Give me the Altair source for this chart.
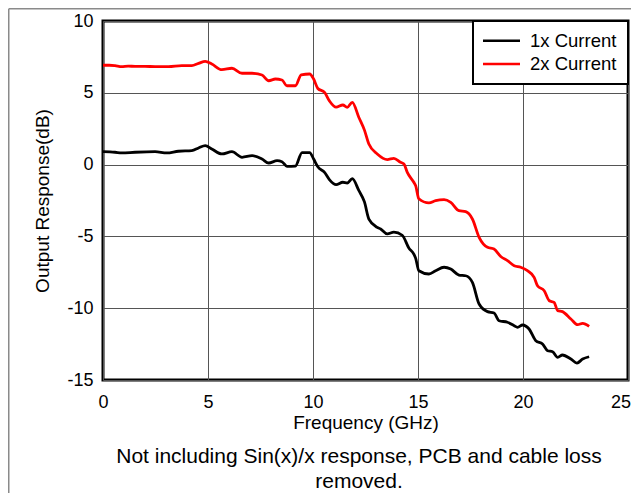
import altair as alt
import pandas as pd

series = ["1x Current", "2x Current"]
series_colors = ["#000000", "#ff0000"]

freq_1x = [0.0, 0.57, 0.89, 1.53, 2.48, 3.04, 3.59, 4.23, 4.55, 4.87, 5.18, 5.66, 6.14, 6.62,
           7.10, 7.57, 7.89, 8.29, 8.52, 8.76, 9.16, 9.48, 9.84, 10.03, 10.23, 10.55, 10.79,
           11.10, 11.42, 11.63, 11.87, 12.18, 12.45, 12.66, 13.06, 13.22, 13.54, 13.85, 14.25,
           14.57, 14.80, 14.89, 15.04, 15.52, 15.84, 16.24, 16.56, 16.95, 17.27, 17.59, 17.91,
           18.31, 18.62, 18.86, 19.26, 19.58, 19.74, 19.98, 20.29, 20.61, 20.93, 21.17, 21.41,
           21.65, 21.88, 22.28, 22.57, 22.84, 23.15]
resp_1x = [0.90, 0.86, 0.81, 0.86, 0.90, 0.81, 0.93, 0.97, 1.16, 1.32, 1.09, 0.74, 0.90, 0.51,
           0.62, 0.39, 0.11, 0.27, 0.20, -0.12, -0.10, 0.84, 0.84, 0.39, -0.15, -0.54, -1.06,
           -1.40, -1.23, -1.28, -0.98, -1.80, -2.60, -3.79, -4.37, -4.48, -4.83, -4.70, -4.92,
           -5.82, -6.23, -6.53, -7.39, -7.62, -7.39, -7.15, -7.27, -7.69, -7.74, -8.20, -9.71,
           -10.24, -10.33, -10.87, -10.98, -11.22, -11.33, -11.17, -11.45, -12.26, -12.49, -12.96, -13.03,
           -13.42, -13.26, -13.54, -13.82, -13.54, -13.38]

freq_2x = [0.0, 0.3, 0.57, 0.89, 1.2, 1.53, 2.0, 2.48, 3.12, 3.75, 4.23, 4.55, 4.87, 5.18, 5.66,
           6.14, 6.62, 7.10, 7.57, 7.89, 8.21, 8.52, 8.76, 9.16, 9.44, 9.84, 10.03, 10.23, 10.55,
           10.79, 11.10, 11.42, 11.63, 11.87, 12.18, 12.45, 12.66, 13.06, 13.54, 13.85, 14.17,
           14.33, 14.49, 14.80, 14.89, 15.04, 15.52, 15.84, 16.24, 16.56, 16.95, 17.27, 17.59,
           17.91, 18.31, 18.62, 18.94, 19.26, 19.58, 19.89, 20.21, 20.53, 20.69, 21.01, 21.25,
           21.48, 21.65, 21.88, 22.28, 22.60, 22.84, 23.15]
resp_2x = [6.92, 6.92, 6.89, 6.82, 6.86, 6.84, 6.84, 6.82, 6.82, 6.89, 6.89, 7.05, 7.19, 7.00, 6.61,
           6.71, 6.36, 6.36, 6.24, 5.84, 5.96, 5.89, 5.49, 5.49, 6.25, 6.31, 5.96, 5.30, 5.03,
           4.42, 4.00, 4.15, 3.99, 4.34, 3.30, 2.40, 1.43, 0.74, 0.35, 0.44, 0.16,
           0.04, -0.54, -1.23, -1.47, -2.38, -2.67, -2.51, -2.44, -2.63, -3.21, -3.28, -3.79,
           -5.06, -5.76, -5.88, -6.40, -6.69, -7.04, -7.15, -7.39, -7.85, -8.43, -8.78, -9.48,
           -9.59, -10.17, -10.24, -10.75, -11.15, -11.05, -11.26]

x_ticks = [0, 5, 10, 15, 20, 25]
y_ticks = [-15, -10, -5, 0, 5, 10]
x_title = "Frequency (GHz)"
y_title = "Output Response(dB)"
caption = ["Not including Sin(x)/x response, PCB and cable loss", "removed."]

FONT = "Liberation Sans"
W, H = 525, 359

df = pd.concat([
    pd.DataFrame({"freq": freq_1x, "resp": resp_1x, "series": series[0]}),
    pd.DataFrame({"freq": freq_2x, "resp": resp_2x, "series": series[1]}),
])

last_x = "datum.value == %d" % x_ticks[-1]

lines = alt.Chart(df).mark_line(strokeWidth=2.8, interpolate="monotone").encode(
    x=alt.X("freq:Q", scale=alt.Scale(domain=[0, 25], nice=False, zero=False),
            axis=alt.Axis(values=x_ticks, title=x_title, grid=True, ticks=False, domain=False,
                          labelFlush=False, labelPadding=13, titlePadding=2.5,
                          labelAlign={"condition": {"test": last_x, "value": "right"}, "value": "center"},
                          labelOffset={"condition": {"test": last_x, "value": 2.5}, "value": 0},
                          labelExpr="'' + datum.value")),
    y=alt.Y("resp:Q", scale=alt.Scale(domain=[-15, 10], nice=False, zero=False),
            axis=alt.Axis(values=y_ticks, title=y_title, grid=True, ticks=False, domain=False,
                          labelFlush=False, labelPadding=10, titlePadding=14,
                          labelExpr="'' + datum.value")),
    color=alt.Color("series:N", scale=alt.Scale(domain=series, range=series_colors), legend=None),
)

layers = [lines]

# legend box (drawn manually for exact layout)
one = pd.DataFrame({"a": [0]})
layers.append(alt.Chart(one).mark_rect(fill="white", stroke="black", strokeWidth=2).encode(
    x=alt.value(370), x2=alt.value(525), y=alt.value(0), y2=alt.value(63)))
for i, (name, col) in enumerate(zip(series, series_colors)):
    yy = 19.7 + 23.3 * i
    layers.append(alt.Chart(one).mark_rule(color=col, strokeWidth=2.5).encode(
        x=alt.value(380), x2=alt.value(417), y=alt.value(yy)))
    layers.append(alt.Chart(pd.DataFrame({"t": [name]})).mark_text(
        font=FONT, fontSize=18.5, color="black", align="left", baseline="middle"
    ).encode(text="t:N", x=alt.value(427), y=alt.value(yy)))

caption_y = [442, 467]
for i, line in enumerate(caption):
    layers.append(
        alt.Chart(pd.DataFrame({"t": [line]})).mark_text(
            font=FONT, fontSize=21, color="black", align="center", baseline="alphabetic"
        ).encode(text="t:N", x=alt.value(256), y=alt.value(caption_y[i]))
    )

layers.append(alt.Chart(one).mark_rule(color="#8a8a8a", strokeWidth=1.5).encode(
    x=alt.value(-94.25), y=alt.value(-12.25), y2=alt.value(475)))
layers.append(alt.Chart(one).mark_rule(color="#8a8a8a", strokeWidth=1.5).encode(
    x=alt.value(-94.25), x2=alt.value(528), y=alt.value(-12.25)))

chart = alt.layer(*layers).properties(
    width=W, height=H,
    autosize=alt.AutoSizeParams(type="none"),
    padding={"left": 95, "top": 13, "right": 3, "bottom": 113},
    background="white",
).configure_view(
    stroke="black", strokeWidth=3
).configure_axis(
    labelFont=FONT, labelFontSize=18, labelColor="black",
    titleFont=FONT, titleFontSize=19, titleFontWeight="normal", titleColor="black",
    gridColor="#555555", gridWidth=1, gridOpacity=1,
)

chart.save("out.html", embed_options={"renderer": "svg", "actions": False})
